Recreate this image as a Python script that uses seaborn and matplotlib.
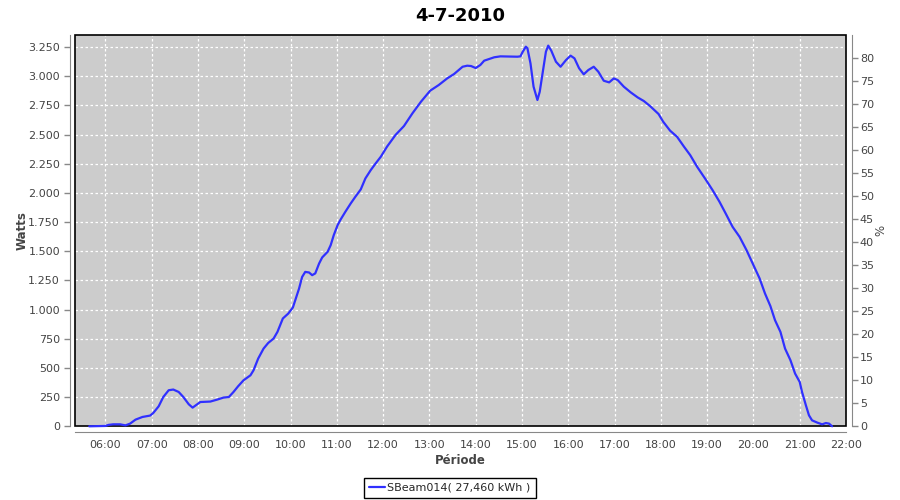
import pandas as pd
import seaborn as sns
import matplotlib.pyplot as plt
import matplotlib.dates as mdates
from matplotlib.patches import Rectangle
from matplotlib.ticker import FuncFormatter, MultipleLocator

# Mesures de la journée (heure, puissance en W)
heures = ["05:39", "05:50", "06:00", "06:04", "06:10", "06:19", "06:26", "06:32", "06:39", "06:48",
          "06:58", "07:02", "07:09", "07:15", "07:22", "07:28", "07:35", "07:41", "07:48", "07:53",
          "07:59", "08:03", "08:16", "08:25", "08:33", "08:40", "08:46", "08:52", "08:59", "09:08",
          "09:12", "09:18", "09:25", "09:31", "09:38", "09:43", "09:50", "09:57", "10:03", "10:06",
          "10:11", "10:15", "10:19", "10:24", "10:28", "10:32", "10:37", "10:41", "10:48", "10:52",
          "10:56", "11:01", "11:05", "11:11", "11:18", "11:24", "11:31", "11:37", "11:44", "11:50",
          "11:57", "12:05", "12:16", "12:27", "12:38", "12:49", "13:01", "13:12", "13:23", "13:32",
          "13:43", "13:49", "13:54", "14:00", "14:06", "14:11", "14:24", "14:32", "14:54", "14:58",
          "15:01", "15:05", "15:07", "15:11", "15:15", "15:20", "15:23", "15:28", "15:31", "15:34",
          "15:38", "15:44", "15:50", "15:57", "16:03", "16:08", "16:14", "16:20", "16:26", "16:33",
          "16:39", "16:46", "16:53", "16:59", "17:04", "17:12", "17:21", "17:30", "17:38", "17:46",
          "17:57", "18:03", "18:12", "18:21", "18:30", "18:38", "18:47", "18:58", "19:07", "19:16",
          "19:24", "19:33", "19:42", "19:51", "19:59", "20:08", "20:15", "20:22", "20:28", "20:35",
          "20:41", "20:48", "20:54", "21:00", "21:03", "21:08", "21:12", "21:16", "21:23", "21:29",
          "21:34", "21:38", "21:42"]
watts = [0, 2, 3, 12, 17, 17, 8, 23, 57, 80,
         92, 114, 171, 251, 309, 315, 294, 251, 189, 160,
         189, 208, 212, 229, 246, 251, 294, 343, 394, 437,
         480, 580, 666, 714, 752, 809, 924, 966, 1018, 1078,
         1180, 1280, 1323, 1318, 1295, 1310, 1395, 1447, 1495, 1552,
         1638, 1724, 1773, 1838, 1910, 1967, 2030, 2124, 2196, 2250,
         2310, 2396, 2496, 2573, 2682, 2781, 2876, 2924, 2981, 3019,
         3081, 3090, 3087, 3070, 3096, 3133, 3162, 3170, 3167, 3170,
         3210, 3253, 3240, 3110, 2910, 2796, 2867, 3085, 3210, 3262,
         3218, 3124, 3081, 3138, 3176, 3153, 3068, 3016, 3053, 3081,
         3038, 2961, 2947, 2981, 2967, 2910, 2861, 2818, 2787, 2744,
         2676, 2610, 2533, 2481, 2396, 2324, 2224, 2116, 2024, 1924,
         1824, 1709, 1624, 1510, 1395, 1267, 1138, 1030, 909, 809,
         666, 566, 452, 380, 294, 180, 94, 51, 31, 17,
         28, 23, 0]

jour = "2010-07-04"
titre = "4-7-2010"
legende = "SBeam014( 27,460 kWh )"

df = pd.DataFrame({"Heure": pd.to_datetime([jour + " " + h for h in heures]), "Watts": watts})

sns.set_style("darkgrid", {"axes.facecolor": "#cccccc", "grid.color": "white",
                           "grid.linestyle": (0, (2, 2))})
plt.rcParams["font.family"] = ["DejaVu Sans"]

gris = "#444444"
fig = plt.figure(figsize=(9, 5), dpi=100)
ax = fig.add_axes([0.0837, 0.1474, 0.8563, 0.7826])

sns.lineplot(data=df, x="Heure", y="Watts", ax=ax, color="#3030ff", linewidth=1.6,
             label=legende, legend=False, zorder=5)
for ln in ax.lines:
    ln.set_clip_on(False)

ax.set_xlim(pd.Timestamp(jour + " 05:21"), pd.Timestamp(jour + " 22:00"))
ax.set_ylim(0, 3353)
ax.yaxis.set_major_locator(MultipleLocator(250))
ax.yaxis.set_major_formatter(FuncFormatter(lambda v, _: f"{int(v):,}".replace(",", ".")))
ax.xaxis.set_major_locator(mdates.HourLocator())
ax.xaxis.set_major_formatter(mdates.DateFormatter("%H:%M"))
ax.grid(True, color="white", linestyle=(0, (2, 2)), linewidth=0.9)

ax.set_xlabel("Période", fontsize=8.5, fontweight="bold", color=gris, labelpad=3)
ax.set_ylabel("Watts", fontsize=8.5, fontweight="bold", color=gris, labelpad=0)
ax.set_title(titre, fontsize=13, fontweight="bold", color="black", pad=10)

# cadre noir du graphique, sous la courbe
ax.add_patch(Rectangle((0, 0), 1, 1, transform=ax.transAxes, fill=False,
                       edgecolor="black", linewidth=1.2, clip_on=False, zorder=4))

ax2 = ax.twinx()
ax2.set_ylim(0, 84.9)
ax2.yaxis.set_major_locator(MultipleLocator(5))
ax2.grid(False)
ax2.set_ylabel("%", fontsize=8.5, color=gris, labelpad=0)

for a in (ax, ax2):
    for s in a.spines.values():
        s.set_visible(False)
    a.tick_params(direction="out", length=4, width=1, color="#888888", labelcolor=gris,
                  labelsize=8, pad=2)
for s in ("left", "bottom"):
    ax.spines[s].set_visible(True)
    ax.spines[s].set_position(("outward", 4))
    ax.spines[s].set_color("#888888")
ax2.spines["right"].set_visible(True)
ax2.spines["right"].set_position(("outward", 4))
ax2.spines["right"].set_color("#888888")
ax.tick_params(axis="y", pad=3)

h, l = ax.get_legend_handles_labels()
fig.legend(h, l, loc="center", bbox_to_anchor=(0.5, 0.025), fontsize=8, frameon=True,
           fancybox=False, edgecolor="black", facecolor="white", framealpha=1,
           handlelength=1.4, handletextpad=0.2, borderpad=0.45, borderaxespad=0)

fig.savefig("out.png", dpi=100)
